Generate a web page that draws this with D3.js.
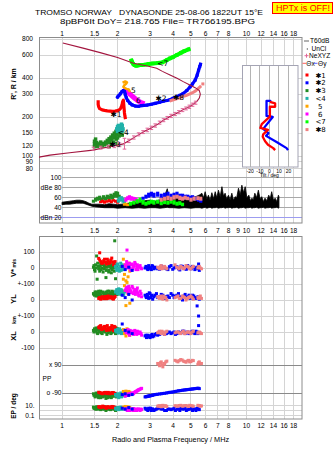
<!DOCTYPE html>
<html><head><meta charset="utf-8">
<script src="https://cdn.jsdelivr.net/npm/d3@7/dist/d3.min.js"></script>
<style>
html,body{margin:0;padding:0;background:#fff;}
svg{display:block;font-family:"Liberation Sans",Arial,sans-serif;}
</style></head><body>
<svg id="chart" width="335" height="451"></svg>
<script>
// ---------------- data ----------------
const titleLine1 = "TROMSO NORWAY   DYNASONDE 25-08-06 1822UT 15°E";
const titleLine2 = "8pBP6It DoY= 218.765 File= TR766195.BPG";
const freqTicksTop = [1,1.5,2,3,4,5,6,7,8,10,12,14,16,18];
const freqTicksMid = [1,1.5,2,3,4,5,6,7,8,9,10,12,14,16,18];
const heightTicks = [800,600,400,300,200,150,120,100,90,80];
const dbTicks = [100,80,60,40];
const dbTickLabels = ["100","dBe 80","60","40","dBn 20"];
const dbLabelValues = [100,80,60,40,20];
const tiltTicks = [-20,-10,0,10,20];
const traceNames = ["✱1","✱2","✱3","<4","5","6","<7","✱8"];
const traceColors = ["#ff0000","#0000ff","#228b22","#20b2aa","#ffa500","#ff00ff","#00ff00","#f08080"];

// Ne profile (plasma frequency MHz, real height km)
const profile = [[0.75,98],[0.86,101.5],[1.1,106],[1.47,111],[1.65,115],[1.82,118],[2.0,121],[2.15,124],[2.3,131],[2.54,143],[2.8,155],[3.0,163],[3.3,176],[3.55,189],[3.85,202],[4.19,214],[4.5,226],[4.95,242],[5.2,254],[5.4,265],[5.55,280],[5.62,300],[5.55,320],[5.27,337],[4.9,355],[4.54,375],[4.2,398],[3.85,422],[3.5,450],[3.26,475],[2.9,495],[2.44,520],[2.0,575],[1.61,628],[1.3,680],[1.01,745]];
// NeXYZ points [f, h, err]
const neXYZ = [[1.48,114,3],[1.62,116,3],[1.78,118,3],[1.92,120,4],[2.05,122,4],[2.18,125,12],[2.3,131,4],[2.45,139,4],[2.6,147,4],[2.75,153,4],[2.9,159,5],[3.05,165,5],[3.2,172,5],[3.38,181,5],[3.55,189,5],[3.72,197,5],[3.9,204,6],[4.1,211,6],[4.3,218,6],[4.5,226,6],[4.7,233,6],[4.9,240,7],[5.1,249,7],[5.3,258,7]];

// virtual height traces [f, h]
const t1H = [[1.57,262],[1.57,250],[1.58,240],[1.6,232],[1.65,227],[1.7,225],[1.76,223],[1.82,222],[1.88,221],[1.94,222],[2.0,224],[2.05,228],[2.08,234],[2.1,242],[2.12,252],[2.13,262],[2.15,270],[2.16,250],[2.17,232],[2.18,215],[2.19,205],[2.2,198]];
const t2H = [[2.0,285],[2.03,292],[2.07,302],[2.11,313],[2.15,320],[2.18,318],[2.2,300],[2.23,282],[2.27,268],[2.33,256],[2.4,248],[2.5,243],[2.6,242],[2.7,245],[2.88,247],[3.05,251],[3.2,255],[3.38,260],[3.54,265],[3.7,268],[3.85,272],[4.0,279],[4.19,287],[4.35,294],[4.54,304],[4.75,320],[4.95,342],[5.1,360],[5.27,385],[5.4,420],[5.5,460],[5.58,490],[5.63,510]];
const t3H = [[1.5,118],[1.5,124],[1.5,130],[1.52,121],[1.54,127],[1.56,119],[1.58,124],[1.6,121],[1.62,128],[1.65,120],[1.67,125],[1.7,122],[1.72,128],[1.74,124],[1.76,132],[1.78,127],[1.8,136],[1.82,130],[1.84,140],[1.86,134],[1.88,145],[1.9,138],[1.9,128],[1.92,150],[1.94,142],[1.96,155],[1.97,135],[1.98,147],[2.0,160],[2.02,152],[2.04,143],[2.06,158],[2.08,148],[2.1,155],[2.12,145],[1.95,125],[1.85,122],[1.52,135],[1.8,118],[2.0,138]];
const t4H = [[1.98,162],[2.0,168],[2.02,172],[2.04,165],[2.06,170],[2.08,160],[2.1,166],[2.12,172],[2.14,162],[2.05,157],[2.0,155],[2.1,176],[2.13,156]];
const t5H = [[2.16,372],[2.2,376],[2.25,370],[2.22,360],[2.17,350],[2.15,342],[2.19,334],[2.24,330],[2.3,326],[2.32,318]];
const t6H = [[2.2,322],[2.24,318],[2.28,310],[2.32,302],[2.36,296],[2.4,290],[2.45,283],[2.5,276],[2.55,270],[2.6,265],[2.66,260],[2.72,257]];
const t7H = [[2.38,545],[2.4,530],[2.43,515],[2.47,502],[2.52,497],[2.58,500],[2.65,505],[2.75,505],[2.85,508],[2.95,513],[3.1,518],[3.3,522],[3.5,528],[3.7,550],[3.85,567],[4.0,580],[4.19,601],[4.4,625],[4.6,645],[4.85,665]];
const t8H = [[3.9,268],[4.1,274],[4.3,280],[4.5,287],[4.7,293],[4.9,300],[5.1,308],[5.3,318],[5.45,330],[5.6,342]];
const t8Dots = [[5.8,360]];
const traceLabelPos = [[1.96,210],[3.44,279],[1.94,123],[2.15,152],[2.44,323],[2.59,267],[3.52,519],[4.28,282]];

// tilt profiles [h, tilt deg]
const tiltX = [[262,0.5],[255,6],[240,6],[240,0.5],[201,0.5],[176,-8],[165,-9.5],[159,-1.5],[147,-6.5],[141,-7],[130,-4.5],[122,-1.5],[115,4],[111,6]];
const tiltY = [[266,-3],[266,1],[266,-3],[204,-3],[200,3.5],[162,-6.5],[150,-1],[143,-3.5],[128,7.5],[115,18],[111,19.5]];

// amplitudes [f, low dB, high dB]
const ampBlack = [[1.0,46,51],[1.05,47,52],[1.1,47,53],[1.15,48,54],[1.2,49,55],[1.25,49,55],[1.3,49,54],[1.35,47,52],[1.4,45,49],[1.45,43,47],[1.5,42,47],[1.6,41,47],[1.7,40,46],[1.8,40,48],[1.9,40,47],[2.0,39,46],[2.2,40,48],[2.4,39,50],[2.6,40,52],[2.8,39,54],[3.0,40,55],[3.2,40,53],[3.4,39,56],[3.6,40,64],[3.72,41,78],[3.8,40,60],[4.0,40,58],[4.3,39,62],[4.6,40,60],[5.0,39,60],[5.3,40,62],[5.6,40,66],[5.73,39,69],[5.85,40,60],[5.97,41,72],[6.1,39,58],[6.22,40,65],[6.35,41,55],[6.49,39,70],[6.63,40,58],[6.77,40,72],[6.9,41,60],[7.05,39,75],[7.2,40,62],[7.36,40,82],[7.5,41,64],[7.66,39,69],[7.8,40,58],[7.99,40,65],[8.15,41,56],[8.33,39,69],[8.5,40,55],[8.68,40,62],[8.85,41,60],[9.05,39,79],[9.25,40,66],[9.44,40,85],[9.65,41,70],[9.84,39,82],[10.05,40,60],[10.3,40,65],[10.5,41,54],[10.7,39,59],[10.9,40,56],[11.1,40,69],[11.35,41,60],[11.6,39,75],[11.85,40,58],[12.1,40,62],[12.35,41,52],[12.6,39,59],[12.9,40,54],[13.2,40,65],[13.45,41,58],[13.7,39,72],[14.0,40,55],[14.3,40,59],[14.6,41,52],[14.9,39,65],[15.0,40,62]];
const t1Amp = [[1.62,49,54],[1.66,50,56],[1.7,48,54],[1.75,50,55],[1.8,51,57],[1.85,49,55],[1.9,52,57],[1.95,50,56],[2.0,48,53]];
const t2Amp = [[2.75,56,62],[2.85,58,66],[2.95,60,70],[3.05,62,72],[3.15,60,70],[3.3,62,72],[3.45,58,68],[3.6,60,70],[3.75,62,72],[3.9,58,68],[4.05,60,70],[4.2,62,72],[4.35,58,68],[4.5,60,68],[4.65,56,66],[4.8,58,66],[4.95,55,64],[5.1,56,65],[5.3,54,62],[5.5,52,60],[5.65,50,58]];
const t3Amp = [[1.48,50,56],[1.52,52,60],[1.56,54,62],[1.6,55,64],[1.64,52,60],[1.68,56,65],[1.72,54,62],[1.76,57,66],[1.8,55,64],[1.84,58,68],[1.88,56,66],[1.92,60,70],[1.96,62,73],[2.0,60,72],[2.04,56,66],[2.08,54,62]];
const t4Amp = [[2.02,50,58],[2.06,52,62],[2.1,54,63],[2.14,50,60],[2.18,46,56]];
const t5Amp = [[2.18,44,49],[2.22,45,50],[2.27,43,48]];
const t6Amp = [[2.22,52,60],[2.27,55,63],[2.32,56,65],[2.37,54,63],[2.42,55,62],[2.47,53,61],[2.52,52,60],[2.58,50,57]];
const t7Amp = [[2.35,44,52],[2.45,46,54],[2.55,48,57],[2.65,50,60],[2.75,46,56],[2.85,44,52],[2.95,46,54],[3.05,48,56],[3.15,46,55],[3.3,48,56],[3.45,45,54],[3.6,47,55],[3.75,46,54],[3.9,48,56],[4.05,46,55],[4.2,44,52],[4.35,45,53],[4.5,43,50]];
const t8Amp = [[3.45,52,60],[3.6,54,62],[3.75,55,64],[3.9,54,62],[4.05,56,65],[4.2,58,66],[4.35,55,64],[4.5,54,62],[4.65,56,64],[4.8,55,62],[5.0,52,60],[5.2,54,62],[5.45,55,63],[5.65,54,62]];

// echo parameters [f, V* m/s, YL km, XL km, PP deg, EP deg]
const t1Echo = [[1.58,60,10,30,-85,6],[1.6,95,15,25,-88,5],[1.62,40,5,40,-90,4],[1.66,30,20,20,-95,8],[1.7,55,15,35,-88,5],[1.74,25,8,10,-92,3],[1.78,45,25,25,-86,6],[1.82,35,12,15,-95,4],[1.86,62,18,40,-90,7],[1.9,20,6,8,-88,5],[1.94,40,22,30,-92,3],
  [1.6,50,12,35,-87,6],[1.64,30,18,15,-92,5],[1.68,45,8,30,-90,7],[1.72,35,22,20,-86,4],[1.76,55,10,40,-94,6],[1.8,28,15,12,-89,5],[1.84,50,20,28,-91,4],[1.88,38,8,20,-87,6],[1.92,30,15,35,-93,5]];
const t2Echo = [[2.12,10,30,50,-100,3],[2.2,-10,15,10,-95,2],[2.3,5,35,0,-105,4],[2.4,-15,0,-10,-100,2],[2.85,10,20,-20,-114,2],[2.9,-5,35,-30,-112,1.5],[2.95,15,10,-25,-110,3],[3.0,0,40,-35,-108,2],[3.05,-10,25,-20,-106,1],[3.1,10,5,-30,-104,2],[3.2,5,30,-15,-100,1.5],[3.3,-5,15,-20,-98,3],[3.45,12,35,-10,-95,2],[3.6,0,10,-15,-92,1],[3.75,-10,25,-5,-88,2],[3.9,15,40,-10,-85,1.5],[4.05,0,15,0,-82,3],[4.2,8,30,-10,-78,2],[4.35,-12,20,-5,-75,1],[4.5,10,0,5,-72,2],[4.65,-5,35,-10,-70,3],[4.8,15,20,0,-68,1.5],[4.95,0,10,-5,-66,2],[5.1,10,30,5,-64,1],[5.25,-10,15,-10,-62,2],[5.4,5,-37,0,-60,3],[5.5,25,-100,40,-60,2],[5.55,-15,5,-5,-62,1.5],
  [2.82,0,30,-25,-115,3],[2.87,5,15,-35,-113,2],[2.92,-10,25,-20,-111,1],[2.97,5,45,-30,-109,2],[3.02,-5,15,-25,-107,3],[3.08,15,30,-15,-105,2],[3.15,-5,20,-25,-102,1],[3.25,0,40,-10,-99,2],[3.38,-8,20,-15,-96,3],[3.52,5,30,-5,-93,2],[3.68,-5,20,-10,-90,1],[3.82,8,15,0,-86,2],[3.98,-8,30,-5,-84,2],[4.12,5,25,-15,-80,1],[4.28,-5,40,0,-76,2],[4.42,12,10,-5,-74,3],[4.58,0,25,5,-71,2],[4.72,-8,15,-5,-69,1],[4.88,5,30,-10,-67,2],[5.02,-5,20,0,-65,3],[5.18,5,25,-5,-63,2],[5.32,0,10,5,-61,1],[5.45,-5,20,-10,-60,2]];
const t3Echo = [[1.48,5,40,10,-95,5],[1.5,-10,30,20,-100,3],[1.52,20,45,5,-110,2],[1.54,75,50,15,-90,6],[1.55,-70,35,-5,-105,4],[1.57,10,25,25,-115,2],[1.6,-20,40,0,-95,3],[1.62,25,55,30,-120,1.5],[1.65,0,20,-10,-100,4],[1.67,-25,45,15,-110,2],[1.7,15,30,5,-90,5],[1.73,-60,50,20,-125,1],[1.75,5,35,-15,-105,3],[1.78,30,25,10,-95,2],[1.8,-15,55,0,-115,4],[1.83,10,40,25,-100,1.5],[1.85,-30,30,-5,-120,2],[1.88,20,50,15,-90,3],[1.9,0,20,5,-110,5],[1.93,170,45,30,-100,2],[1.95,-67,35,-10,-95,1],[1.97,15,55,10,-115,3],[2.0,-5,40,20,-105,4],
  [1.49,15,35,0,-105,3],[1.51,-20,50,15,-115,4],[1.53,0,25,25,-95,2],[1.56,30,45,-10,-100,5],[1.58,-5,55,10,-120,3],[1.61,10,35,20,-105,2],[1.63,-10,30,-5,-95,4],[1.66,20,50,10,-115,3],[1.69,-5,40,25,-100,2],[1.71,5,25,0,-110,6],[1.74,-15,45,10,-95,3],[1.77,10,55,-5,-120,2],[1.79,-25,35,15,-105,4],[1.82,25,30,5,-100,3],[1.84,0,45,-10,-115,2],[1.87,-10,55,20,-95,5],[1.89,15,40,0,-110,3],[1.92,-20,25,10,-105,2],[1.96,5,50,25,-100,4],[1.99,20,35,-5,-110,3]];
const t4Echo = [[1.95,10,50,10,-100,3],[1.98,-15,65,0,-110,2],[2.0,25,40,15,-95,4],[2.03,0,70,-5,-120,1.5],[2.05,-20,55,20,-105,3],[2.08,30,35,5,-90,5],[2.1,5,60,-10,-115,2],[2.13,-10,45,10,-100,3],[2.16,15,30,0,-95,4],[2.19,-5,50,5,-110,2],
  [1.96,0,55,5,-105,2],[1.99,20,45,15,-100,3],[2.02,-5,60,-5,-112,2],[2.06,10,40,10,-98,4],[2.09,-15,65,0,-108,2],[2.12,20,50,-5,-102,3],[2.15,0,35,10,-96,2],[2.18,10,55,0,-104,3]];
const t5Echo = [[2.15,55,130,15,-80,5],[2.18,-40,90,-10,-85,3],[2.2,20,60,5,-90,7],[2.22,-80,-35,-25,-78,4],[2.25,10,110,20,-82,6],[2.28,-55,40,-5,-88,3],[2.3,30,75,10,-80,5],[2.33,-20,-20,-20,-85,4]];
const t6Echo = [[2.2,20,60,10,-110,2],[2.24,40,80,-5,-100,1.5],[2.25,112,70,0,-98,2],[2.28,0,45,15,-105,3],[2.32,30,70,-20,-95,1],[2.36,-15,55,5,-100,2],[2.4,25,85,0,-90,1.5],[2.44,10,40,-15,-95,2.5],[2.48,35,65,10,-85,1],[2.52,-10,50,-5,-80,2],[2.56,20,75,5,-75,1.5],[2.6,5,30,-10,-70,2],[2.65,15,55,0,-65,1],[2.7,-5,20,-20,-60,1.5],
  [2.22,5,70,0,-105,2],[2.26,25,55,5,-102,1],[2.3,10,85,-10,-98,2],[2.34,0,60,10,-96,1.5],[2.38,20,45,-5,-92,2],[2.42,-5,75,5,-92,1],[2.46,15,55,-10,-88,2],[2.5,25,35,0,-82,1.5],[2.54,5,60,-15,-78,1],[2.58,-10,45,0,-72,2],[2.62,10,25,-5,-68,1.5],[2.68,0,40,-10,-62,2]];
const t8Echo = [[3.3,5,20,-5,100,8],[3.38,-5,10,5,85,10],[3.45,15,25,-10,110,6],[3.52,0,5,0,78,12],[3.6,10,15,-15,95,9],[3.7,-5,0,5,115,7],[4.1,20,15,-5,120,10],[4.25,0,25,0,110,8],[4.4,10,10,-10,125,12],[4.55,-5,20,5,115,9],[4.7,15,0,-5,108,11],[4.85,5,15,0,120,7],[5.0,-5,25,-10,112,10],[5.15,10,5,5,118,8],[5.45,0,15,-5,95,12],[5.55,10,20,0,110,10],[5.7,-5,10,-10,100,9],
  [3.34,0,15,0,95,9],[3.42,10,20,-5,105,7],[3.48,-5,10,5,90,11],[3.56,5,25,-10,100,8],[3.65,0,15,0,110,10],[4.18,5,20,0,115,9],[4.32,-5,10,-5,118,11],[4.48,5,25,0,122,8],[4.62,0,15,-10,112,10],[4.78,10,10,0,116,9],[4.92,-5,20,-5,110,12],[5.08,5,15,0,120,9],[5.5,5,10,-5,105,11],[5.62,0,25,-5,98,8]];

// ---------------- scales ----------------
const x = d3.scaleLog().domain([0.75,20]).range([39,302]);
const yH = d3.scaleLog().domain([100,800]).range([156,39]);
const yDB = d3.scaleLinear().domain([20,100]).range([217.7,177.7]);
const yV = d3.scaleLinear().domain([-100,100]).range([284,252]);
const yYL = d3.scaleLinear().domain([-100,100]).range([316,284]);
const yXL = d3.scaleLinear().domain([-100,100]).range([348,316]);
const yPP = d3.scaleLinear().domain([-90,90]).range([393,365]);
const yEP = d3.scaleLog().domain([0.1,10]).range([415.3,405.7]);
const xT = d3.scaleLinear().domain([-20,20]).range([250.3,288.5]);

const svg = d3.select('#chart');
const GRID = '#d4d4d4', FRAME = '#8c8c8c';

// ---------------- title ----------------
svg.append('text').attr('x',35).attr('y',14.8).attr('xml:space','preserve').style('white-space','pre')
  .attr('textLength',228).attr('lengthAdjust','spacingAndGlyphs').style('font-size','7.8px').text(titleLine1);
svg.append('text').attr('x',60).attr('y',23.6).attr('textLength',195).attr('lengthAdjust','spacingAndGlyphs')
  .style('font-size','7.8px').text(titleLine2);
svg.append('rect').attr('x',272.5).attr('y',2.5).attr('width',60).attr('height',11).attr('fill','#ffff00').attr('stroke','#ff0000');
svg.append('text').attr('x',276).attr('y',10.8).attr('fill','#ff0000').attr('textLength',54).attr('lengthAdjust','spacingAndGlyphs')
  .style('font-size','8.5px').text('HPTx is OFF!');

// ---------------- grids ----------------
const grid = svg.append('g').attr('stroke',GRID).attr('stroke-width',1).attr('shape-rendering','crispEdges');
grid.selectAll(null).data(freqTicksTop).join('line')
  .attr('x1',d=>x(d)).attr('x2',d=>x(d)).attr('y1',37).attr('y2',223);
grid.selectAll(null).data(freqTicksTop).join('line')
  .attr('x1',d=>x(d)).attr('x2',d=>x(d)).attr('y1',236).attr('y2',419);
grid.selectAll(null).data(heightTicks).join('line')
  .attr('x1',39).attr('x2',302).attr('y1',d=>yH(d)).attr('y2',d=>yH(d));
svg.append('g').attr('stroke','#a8a8a8').attr('shape-rendering','crispEdges')
  .selectAll(null).data(dbTicks).join('line')
  .attr('x1',x(1)).attr('x2',302).attr('y1',d=>yDB(d)).attr('y2',d=>yDB(d));
svg.append('line').attr('x1',39).attr('x2',302).attr('y1',yDB(20)).attr('y2',yDB(20)).attr('stroke','#9c9cf0').attr('shape-rendering','crispEdges');
const lowLines = [yV(100),yV(0),yV(-100),yYL(0),yYL(-100),yXL(0),yXL(-100),yEP(10),yEP(1),yEP(0.1)];
grid.selectAll(null).data(lowLines).join('line').attr('x1',39).attr('x2',302).attr('y1',d=>d).attr('y2',d=>d);
svg.append('g').attr('stroke','#8a8a8a').attr('shape-rendering','crispEdges')
  .selectAll(null).data([90,-90]).join('line').attr('x1',x(1)).attr('x2',302).attr('y1',d=>yPP(d)).attr('y2',d=>yPP(d));

// frames
svg.append('rect').attr('x',39.5).attr('y',37.5).attr('width',262.5).attr('height',185.5).attr('fill','none').attr('stroke',FRAME);
svg.append('rect').attr('x',39.5).attr('y',236.5).attr('width',262.5).attr('height',182.5).attr('fill','none').attr('stroke',FRAME);

// ---------------- axis labels ----------------
const fmt = d=>String(d);
function xLabels(ticks, yb){
  svg.append('g').style('font-size','6.6px').attr('text-anchor','middle')
    .selectAll(null).data(ticks).join('text').attr('x',d=>x(d)).attr('y',yb).text(fmt);
}
xLabels(freqTicksTop,35.8); xLabels(freqTicksMid,232.9); xLabels(freqTicksTop,427.7);
svg.append('g').style('font-size','6.6px').attr('text-anchor','end')
  .selectAll(null).data(heightTicks).join('text').attr('x',33).attr('y',d=>yH(d)+2.3).text(fmt);
svg.append('g').style('font-size','6.6px').attr('text-anchor','end')
  .selectAll(null).data(dbLabelValues).join('text').attr('x',61.5).attr('y',d=>yDB(d)+2.3).text((d,i)=>dbTickLabels[i]);
const lowTickLabels = [[yV(100),'100'],[yV(0),'0'],[yV(-100),'+-100'],[yYL(0),'0'],[yYL(-100),'+-100'],[yXL(0),'0'],[yXL(-100),'-100'],[yEP(10),'10.'],[yEP(0.1),'0.1']];
svg.append('g').style('font-size','6.6px').attr('text-anchor','end')
  .selectAll(null).data(lowTickLabels).join('text').attr('x',34.5).attr('y',d=>d[0]+2.3).text(d=>d[1]);
svg.append('g').style('font-size','6.6px').attr('text-anchor','end')
  .selectAll(null).data([[90,'x 90'],[-90,'o -90']]).join('text').attr('x',61.5).attr('y',d=>yPP(d[0])+2.3).text(d=>d[1]);
svg.append('text').attr('x',42.5).attr('y',yPP(0)+2.3).style('font-size','6.6px').text('PP');

function vLabel(txt, cx, cy, size){
  svg.append('text').attr('transform',`translate(${cx},${cy}) rotate(-90)`).attr('text-anchor','middle')
    .style('font-size',size+'px').style('font-weight','bold').text(txt);
}
vLabel("R', R / km",16,84,7);
const vs = svg.append('text').attr('transform','translate(16,268) rotate(-90)').attr('text-anchor','middle');
vs.append('tspan').style('font-size','7.5px').style('font-weight','bold').text('V*');
vs.append('tspan').attr('dx',1.5).style('font-size','5px').style('font-weight','bold').text('m/s');
vLabel('YL',16,299,7.5);
vLabel('km',16,320,5.5);
vLabel('XL',16,336,7.5);
vLabel('EP / deg',16,406,6.5);
svg.append('text').attr('x',170.5).attr('y',441.5).attr('text-anchor','middle').style('font-size','7.3px')
  .text('Radio and Plasma Frequency / MHz');

// ---------------- top panel plot ----------------
svg.append('clipPath').attr('id','clipTop').append('rect').attr('x',39).attr('y',37).attr('width',263).attr('height',135);
const topG = svg.append('g').attr('clip-path','url(#clipTop)');
const lineH = d3.line().x(d=>x(d[0])).y(d=>yH(d[1]));

function trace(data, color, w){
  topG.append('path').attr('d',lineH(data)).attr('fill','none').attr('stroke',color).attr('stroke-width',w)
    .attr('stroke-linejoin','round').attr('stroke-linecap','square');
}
function dots(g, data, fx, fy, color, s){
  g.append('g').attr('fill',color).selectAll(null).data(data).join('rect')
    .attr('x',d=>fx(d)-s/2).attr('y',d=>fy(d)-s/2).attr('width',s).attr('height',s);
}
const fxH = d=>x(d[0]), fyH = d=>yH(d[1]);
trace(t7H,traceColors[6],4); dots(topG,t7H,fxH,fyH,traceColors[6],3.5);
dots(topG,t3H,fxH,fyH,traceColors[2],3.5);
dots(topG,t4H,fxH,fyH,traceColors[3],3.5);
trace(t1H,traceColors[0],3.2);
trace(t6H,traceColors[5],5);
trace(t2H,traceColors[1],3.2); dots(topG,t2H,fxH,fyH,traceColors[1],3);
trace(t5H,traceColors[4],2.5);
trace(t8H,traceColors[7],3); dots(topG,t8Dots,fxH,fyH,traceColors[7],3);

// profile + NeXYZ
topG.append('path').attr('d',lineH(profile)).attr('fill','none').attr('stroke','#a3153f').attr('stroke-width',1.1);
const ne = topG.append('g').attr('stroke','#e2679a').attr('stroke-width',1);
ne.selectAll(null).data(neXYZ).join('line').attr('x1',fxH).attr('x2',fxH)
  .attr('y1',d=>yH(d[1]+d[2])).attr('y2',d=>yH(d[1]-d[2]));
ne.selectAll(null).data(neXYZ).join('line').attr('x1',d=>x(d[0])-1.8).attr('x2',d=>x(d[0])+1.8)
  .attr('y1',d=>yH(d[1]+d[2])).attr('y2',d=>yH(d[1]+d[2]));
ne.selectAll(null).data(neXYZ).join('line').attr('x1',d=>x(d[0])-1.8).attr('x2',d=>x(d[0])+1.8)
  .attr('y1',d=>yH(d[1]-d[2])).attr('y2',d=>yH(d[1]-d[2]));

topG.append('g').style('font-size','7.5px').style('font-family','"DejaVu Sans",sans-serif').attr('text-anchor','middle')
  .selectAll(null).data(traceLabelPos).join('text').attr('x',fxH).attr('y',d=>yH(d[1])+2.7).text((d,i)=>traceNames[i]);

// ---------------- tilt inset ----------------
svg.append('rect').attr('x',242.5).attr('y',65.5).attr('width',55.5).attr('height',101.5).attr('fill','#fff').attr('stroke','#a4a4b4');
svg.append('g').attr('stroke','#b4b4b4').attr('shape-rendering','crispEdges').selectAll(null).data(tiltTicks).join('line')
  .attr('x1',d=>xT(d)).attr('x2',d=>xT(d)).attr('y1',66).attr('y2',167);
svg.append('g').style('font-size','5px').attr('text-anchor','middle').selectAll(null).data(tiltTicks).join('text')
  .attr('x',d=>xT(d)).attr('y',172.6).text(fmt);
svg.append('text').attr('x',xT(0)).attr('y',177.4).attr('text-anchor','middle').style('font-size','5px').text('Tilt / deg');
const lineT = d3.line().x(d=>xT(d[1])).y(d=>yH(d[0]));
svg.append('path').attr('d',lineT(tiltY)).attr('fill','none').attr('stroke','#0000ff').attr('stroke-width',2.3).attr('stroke-linejoin','round');
svg.append('path').attr('d',lineT(tiltX)).attr('fill','none').attr('stroke','#ff0000').attr('stroke-width',2.3).attr('stroke-linejoin','round');

// ---------------- amplitude panel ----------------
const area = d3.area().x(d=>x(d[0])).y0(d=>yDB(d[1])).y1(d=>yDB(d[2]));
svg.append('path').attr('d',area(ampBlack)).attr('fill','#000').attr('stroke','#000').attr('stroke-width',0.8);
function ampBars(data,color){
  svg.append('g').attr('fill',color).selectAll(null).data(data).join('rect')
    .attr('x',d=>x(d[0])-1.6).attr('width',3.2).attr('y',d=>yDB(d[2])).attr('height',d=>yDB(d[1])-yDB(d[2]));
}
ampBars(t3Amp,traceColors[2]); ampBars(t1Amp,traceColors[0]); ampBars(t4Amp,traceColors[3]);
ampBars(t5Amp,traceColors[4]); ampBars(t6Amp,traceColors[5]); ampBars(t7Amp,traceColors[6]);
ampBars(t2Amp,traceColors[1]); ampBars(t8Amp,traceColors[7]);

// ---------------- echo parameter panel ----------------
const lowG = svg.append('g');
function echoes(data,color){
  const fx = d=>x(d[0]);
  dots(lowG,data,fx,d=>yV(d[1]),color,3);
  dots(lowG,data,fx,d=>yYL(d[2]),color,3);
  dots(lowG,data,fx,d=>yXL(d[3]),color,3);
  dots(lowG,data,fx,d=>yPP(d[4]),color,3);
  dots(lowG,data,fx,d=>yEP(d[5]),color,3);
}
echoes(t3Echo,traceColors[2]); echoes(t1Echo,traceColors[0]); echoes(t4Echo,traceColors[3]);
echoes(t5Echo,traceColors[4]); echoes(t6Echo,traceColors[5]); echoes(t2Echo,traceColors[1]);
echoes(t8Echo,traceColors[7]);

// ---------------- legend ----------------
const lg = svg.append('g').style('font-size','6.6px');
lg.append('line').attr('x1',304).attr('x2',309).attr('y1',41).attr('y2',41).attr('stroke','#999').attr('stroke-width',1.5);
lg.append('text').attr('x',310).attr('y',43.3).text('T60dB');
lg.append('rect').attr('x',306.8).attr('y',48.5).attr('width',1).attr('height',1).attr('fill','#000');
lg.append('text').attr('x',311.5).attr('y',51.3).text('UnCl');
lg.append('line').attr('x1',304.5).attr('x2',308.5).attr('y1',55.7).attr('y2',55.7).attr('stroke','#e2679a');
lg.append('line').attr('x1',306.5).attr('x2',306.5).attr('y1',53.7).attr('y2',57.7).attr('stroke','#e2679a');
lg.append('text').attr('x',309).attr('y',58).text('NeXYZ');
lg.append('line').attr('x1',302.5).attr('x2',306).attr('y1',63.3).attr('y2',63.3).attr('stroke','#ff6060');
lg.append('text').attr('x',306.3).attr('y',65.6).text('Θx');
lg.append('line').attr('x1',314).attr('x2',317.5).attr('y1',63.3).attr('y2',63.3).attr('stroke','#6060ff');
lg.append('text').attr('x',318).attr('y',65.6).text('Θy');
const li = lg.selectAll(null).data(traceNames).join('g').attr('transform',(d,i)=>`translate(0,${75+i*7.8})`);
li.append('rect').attr('x',305.5).attr('y',-1.5).attr('width',3).attr('height',3).attr('fill',(d,i)=>traceColors[i]);
li.append('text').attr('x',(d,i)=>(i===4||i===5)?318:315.5).attr('y',2.5)
  .style('font-family','"DejaVu Sans",sans-serif').style('font-size','7px').text(d=>d);
</script>
</body></html>
